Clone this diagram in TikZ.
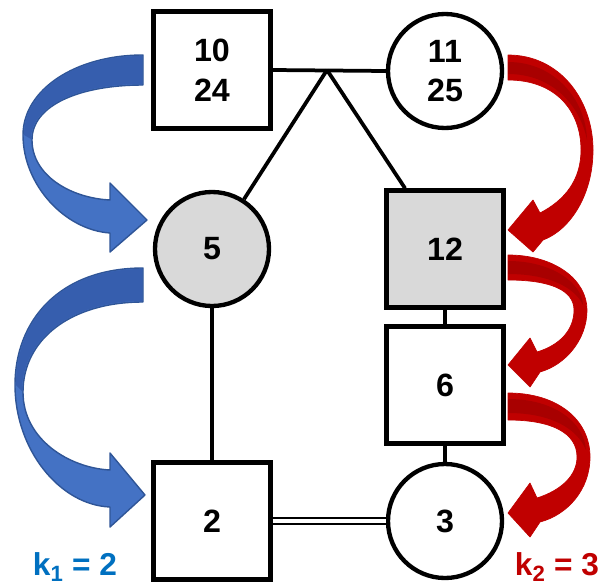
\documentclass[tikz,border=0pt]{standalone}
\usepackage{fontspec}
\setmainfont{Liberation Sans}
\definecolor{arrowblue}{RGB}{68, 114, 196}
\definecolor{blueshade}{RGB}{54, 94, 174}
\definecolor{blueedge}{RGB}{47, 85, 151}
\definecolor{arrowred}{RGB}{192, 0, 0}
\definecolor{redshade}{RGB}{168, 0, 0}
\definecolor{labelblue}{RGB}{0, 112, 192}
\definecolor{carrier}{RGB}{217, 217, 217}

\begin{document}
\begin{tikzpicture}[x=0.03cm, y=-0.03cm,
    person/.style={draw, line width=4pt, inner sep=0pt, align=center,
        font=\fontsize{27.5}{34}\selectfont\bfseries},
    male/.style={person, minimum size=3.5cm},
    female/.style={person, circle, line width=3.7pt, minimum size=3.42cm},
    link/.style={line width=3.2pt},
    bluearrow/.style={fill=arrowblue, draw=blueedge, line width=1.2pt, line join=round},
    redarrow/.style={fill=arrowred, draw=arrowred, line width=0.6pt, line join=round},
    klabel/.style={font=\fontsize{27}{30}\selectfont\bfseries}]
    \useasboundingbox (0,0) rectangle (601,585);

    % persons
    \node[male] (p10) at (212,70) {10\\24};
    \node[female] (p11) at (445,71) {11\\25};
    \node[female, fill=carrier] (p5) at (212,249) {5};
    \node[male, fill=carrier] (p12) at (445,249) {12};
    \node[male] (p6) at (445,385) {6};
    \node[male] (p2) at (212,521) {2};
    \node[female] (p3) at (445,521) {3};
    \coordinate (apex) at (327,70);

    % lines of descent
    \draw[link] (p10.east) -- (p11.west);
    \draw[link] (apex) -- (p5);
    \draw[link] (apex) -- (p12);
    \draw[link] (p5) -- (p2);
    \draw[link] (p12) -- (p6);
    \draw[link] (p6) -- (p3);
    \draw[line width=1.7pt, double, double distance=3.4pt] (p2) -- (p3);

    % blue steps, left side
    \path[bluearrow] (143,55) .. controls (75,55) and (23,90) .. (23,135)
        .. controls (23,185) and (65,230) .. (110,233) -- (110,252) -- (147,220)
        -- (110,183) -- (110,200) .. controls (70,198) and (32,175) .. (32,140)
        .. controls (32,105) and (80,85) .. (143,85) -- cycle;
    \fill[blueshade] (142,56) .. controls (75,56) and (24,90) .. (24,135) -- (31,139)
        .. controls (31,105) and (80,84) .. (142,84) -- cycle;
    \path[bluearrow] (143,268) .. controls (60,268) and (15,320) .. (15,385)
        .. controls (15,450) and (60,505) .. (110,507) -- (110,527) -- (145,495)
        -- (110,453) -- (110,470) .. controls (70,468) and (23,440) .. (23,392)
        .. controls (23,340) and (70,302) .. (143,302) -- cycle;
    \fill[blueshade] (142,269) .. controls (60,269) and (16,320) .. (16,385) -- (22,391)
        .. controls (22,340) and (70,301) .. (142,301) -- cycle;

    % red steps, right side
    \path[redarrow] (508,55) .. controls (560,55) and (593,100) .. (593,150)
        .. controls (593,195) and (570,230) .. (543,240) -- (533,252) -- (508,230)
        -- (533,200) -- (540,213) .. controls (565,200) and (581,180) .. (581,150)
        .. controls (581,110) and (555,80) .. (508,80) -- cycle;
    \fill[redshade] (508,62) .. controls (555,62) and (586,100) .. (587,140)
        .. controls (580,105) and (552,74) .. (508,74) -- cycle;
    \path[redarrow] (508,255) .. controls (555,255) and (587,280) .. (587,310)
        .. controls (587,340) and (565,365) .. (540,372) -- (530,387) -- (508,365)
        -- (530,338) -- (537,352) .. controls (560,345) and (574,330) .. (574,310)
        .. controls (574,290) and (550,280) .. (508,280) -- cycle;
    \fill[redshade] (508,261) .. controls (552,261) and (582,283) .. (583,305)
        .. controls (575,288) and (550,274) .. (508,274) -- cycle;
    \path[redarrow] (508,393) .. controls (558,393) and (590,420) .. (590,457)
        .. controls (590,490) and (567,515) .. (540,522) -- (530,537) -- (508,513)
        -- (530,483) -- (537,498) .. controls (562,490) and (577,475) .. (577,457)
        .. controls (577,433) and (552,420) .. (508,420) -- cycle;
    \fill[redshade] (508,399) .. controls (554,399) and (584,422) .. (586,450)
        .. controls (577,428) and (550,413) .. (508,413) -- cycle;

    % step counts
    \node[klabel, text=labelblue] (k1) at (75,567) {k\textsubscript{1} = 2};
    \node[klabel, text=arrowred] (k2) at (557,567) {k\textsubscript{2} = 3};
\end{tikzpicture}
\end{document}
